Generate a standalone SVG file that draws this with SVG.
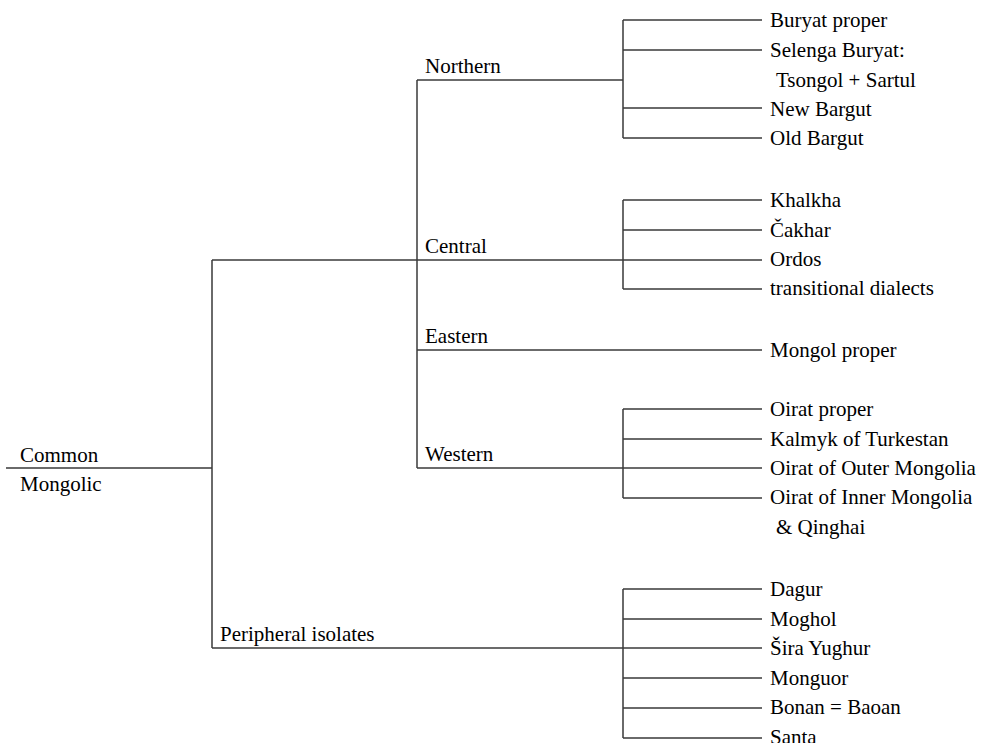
<svg xmlns="http://www.w3.org/2000/svg" width="982" height="743" viewBox="0 0 982 743">
  <rect width="982" height="743" fill="#fff"/>
  <g id="connectors" stroke="#3a3a3a" stroke-width="1.5" fill="none">
    <!-- root and main split -->
    <path d="M6 468 H212 M212 260 V648"/>
    <path d="M212 260 H762"/>
    <path d="M212 648 H762"/>
    <!-- branch spine -->
    <path d="M417 80 V468"/>
    <path d="M417 80 H623"/>
    <path d="M417 350 H762"/>
    <path d="M417 468 H762"/>
    <!-- Northern fan -->
    <path d="M623 20 V138 M623 20 H762 M623 50 H762 M623 108 H762 M623 138 H762"/>
    <!-- Central fan -->
    <path d="M623 200 V289 M623 200 H762 M623 230 H762 M623 289 H762"/>
    <!-- Western fan -->
    <path d="M623 409 V498 M623 409 H762 M623 439 H762 M623 498 H762"/>
    <!-- Peripheral fan -->
    <path d="M623 589 V738 M623 589 H762 M623 619 H762 M623 678 H762 M623 708 H762 M623 738 H762"/>
  </g>
  <g id="common-mongolic"><text x="20" y="462" font-family="Liberation Serif, Times New Roman, serif" font-size="21">Common</text><text x="20" y="491" font-family="Liberation Serif, Times New Roman, serif" font-size="21">Mongolic</text></g>
  <g id="northern"><text x="425" y="73" font-family="Liberation Serif, Times New Roman, serif" font-size="21">Northern</text></g>
  <g id="central"><text x="425" y="253" font-family="Liberation Serif, Times New Roman, serif" font-size="21">Central</text></g>
  <g id="eastern"><text x="425" y="343" font-family="Liberation Serif, Times New Roman, serif" font-size="21">Eastern</text></g>
  <g id="western"><text x="425" y="461" font-family="Liberation Serif, Times New Roman, serif" font-size="21">Western</text></g>
  <g id="peripheral"><text x="220" y="641" font-family="Liberation Serif, Times New Roman, serif" font-size="21">Peripheral isolates</text></g>
  <g id="buryat-proper"><text x="770" y="27" font-family="Liberation Serif, Times New Roman, serif" font-size="21">Buryat proper</text></g>
  <g id="selenga-buryat"><text x="770" y="57" font-family="Liberation Serif, Times New Roman, serif" font-size="21">Selenga Buryat:</text><text x="776" y="87" font-family="Liberation Serif, Times New Roman, serif" font-size="21">Tsongol + Sartul</text></g>
  <g id="new-bargut"><text x="770" y="116" font-family="Liberation Serif, Times New Roman, serif" font-size="21">New Bargut</text></g>
  <g id="old-bargut"><text x="770" y="145" font-family="Liberation Serif, Times New Roman, serif" font-size="21">Old Bargut</text></g>
  <g id="khalkha"><text x="770" y="207" font-family="Liberation Serif, Times New Roman, serif" font-size="21">Khalkha</text></g>
  <g id="cakhar"><text x="770" y="237" font-family="Liberation Serif, Times New Roman, serif" font-size="21">&#268;akhar</text></g>
  <g id="ordos"><text x="770" y="266" font-family="Liberation Serif, Times New Roman, serif" font-size="21">Ordos</text></g>
  <g id="transitional"><text x="770" y="295" font-family="Liberation Serif, Times New Roman, serif" font-size="21">transitional dialects</text></g>
  <g id="mongol-proper"><text x="770" y="357" font-family="Liberation Serif, Times New Roman, serif" font-size="21">Mongol proper</text></g>
  <g id="oirat-proper"><text x="770" y="416" font-family="Liberation Serif, Times New Roman, serif" font-size="21">Oirat proper</text></g>
  <g id="kalmyk"><text x="770" y="446" font-family="Liberation Serif, Times New Roman, serif" font-size="21">Kalmyk of Turkestan</text></g>
  <g id="oirat-outer"><text x="770" y="475" font-family="Liberation Serif, Times New Roman, serif" font-size="21">Oirat of Outer Mongolia</text></g>
  <g id="oirat-inner"><text x="770" y="504" font-family="Liberation Serif, Times New Roman, serif" font-size="21">Oirat of Inner Mongolia</text><text x="776" y="534" font-family="Liberation Serif, Times New Roman, serif" font-size="21">&amp; Qinghai</text></g>
  <g id="dagur"><text x="770" y="596" font-family="Liberation Serif, Times New Roman, serif" font-size="21">Dagur</text></g>
  <g id="moghol"><text x="770" y="626" font-family="Liberation Serif, Times New Roman, serif" font-size="21">Moghol</text></g>
  <g id="sira-yughur"><text x="770" y="655" font-family="Liberation Serif, Times New Roman, serif" font-size="21">&#352;ira Yughur</text></g>
  <g id="monguor"><text x="770" y="685" font-family="Liberation Serif, Times New Roman, serif" font-size="21">Monguor</text></g>
  <g id="bonan"><text x="770" y="714" font-family="Liberation Serif, Times New Roman, serif" font-size="21">Bonan = Baoan</text></g>
  <g id="santa"><text x="770" y="744" font-family="Liberation Serif, Times New Roman, serif" font-size="21">Santa</text></g>
</svg>
